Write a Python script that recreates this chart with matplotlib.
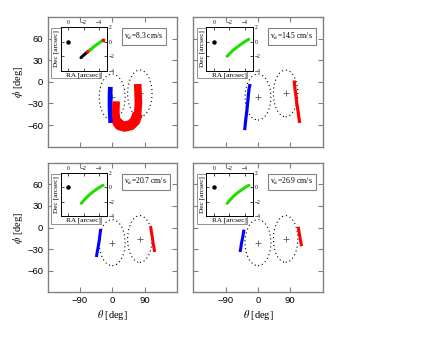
import matplotlib
matplotlib.use("Agg")
import matplotlib.pyplot as plt
from matplotlib.patches import Ellipse, Rectangle

plt.rcParams["mathtext.fontset"] = "stix"
plt.rcParams["font.family"] = ["Liberation Sans", "DejaVu Sans"]

# ---- data ----
speeds = ["8.3", "14.5", "20.7", "26.9"]

# dotted ellipses (theta, phi centre, full width, full height) in deg
ell_theta = [0, 77]
ell_phi = [-21, -16]
ell_width = [72, 68]
ell_height = [64, 65]

# blue and red strips in the main panels
blue_theta = [
    [-5, -6, -6, -5, -4],
    [-22, -25, -27, -29, -31, -34, -36, -37],
    [-32, -34, -36, -39, -42, -44],
    [-39, -41, -43, -46, -48, -50],
]
blue_phi = [
    [-7, -20, -35, -48, -57],
    [-3, -10, -20, -30, -40, -52, -62, -67],
    [-2, -10, -18, -27, -35, -41],
    [-3, -9, -15, -22, -29, -34],
]
red_theta = [
    [11, 10, 12, 20, 35, 52, 64, 71, 73, 72, 71],
    [101, 103, 106, 108, 112, 114, 116],
    [107, 109, 112, 114, 117, 118],
    [112, 114, 116, 118, 120, 121],
]
red_phi = [
    [-27, -42, -54, -60, -62, -60, -54, -44, -30, -15, -3],
    [2, -10, -20, -30, -42, -50, -57],
    [2, -6, -14, -22, -30, -34],
    [1, -5, -11, -17, -22, -26],
]
strip_width = [3.4, 2.3, 2.2, 2.2]

# inset tracks (RA, Dec) in arcsec
green_ra = [
    [-2.8, -3.3, -3.8, -4.2, -4.5],
    [-1.7, -2.1, -2.6, -3.1, -3.6, -4.1, -4.5],
    [-1.7, -2.1, -2.6, -3.1, -3.6, -4.1, -4.5],
    [-1.7, -2.1, -2.6, -3.1, -3.6, -4.1, -4.5],
]
green_dec = [
    [-1.15, -0.7, -0.3, 0.0, 0.25],
    [-2.0, -1.55, -1.05, -0.65, -0.25, 0.1, 0.35],
    [-2.2, -1.7, -1.15, -0.7, -0.3, 0.05, 0.3],
    [-2.2, -1.7, -1.15, -0.7, -0.3, 0.05, 0.3],
]
# first panel only: early part of the track
black_ra = [-1.65, -2.0, -2.5]
black_dec = [-2.2, -1.85, -1.4]
red_ra = [-2.5, -2.8]
red_dec = [-1.4, -1.15]

xticks = [-90, 0, 90]
yticks = [-60, -30, 0, 30, 60]

# ---- figure layout ----
fig = plt.figure(figsize=(4.36, 3.37), dpi=100)
col_x = [0.109, 0.4434]
row_y = [0.5647, 0.1326]
pw, ph = 0.2966, 0.3846
grey = "0.5"
serif = ["Liberation Serif", "DejaVu Serif"]

for i in range(4):
    r, c = divmod(i, 2)
    ax = fig.add_axes([col_x[c], row_y[r], pw, ph])
    ax.set_xlim(-180, 180)
    ax.set_ylim(-90, 90)

    # ellipses and their centres
    for k in range(2):
        ax.add_patch(Ellipse((ell_theta[k], ell_phi[k]), ell_width[k], ell_height[k],
                             fill=False, ec="black", lw=0.8, ls=(0, (1, 2.6))))
        ax.plot(ell_theta[k], ell_phi[k], marker="+", ms=5, mew=0.6, color="0.35")

    # strips
    ax.plot(blue_theta[i], blue_phi[i], color="blue", lw=strip_width[i],
            solid_capstyle="butt", solid_joinstyle="miter")
    if i == 0:
        ax.plot(red_theta[i], red_phi[i], color="red", lw=5.5,
                solid_capstyle="butt")
        ax.plot(red_theta[i][2:8], red_phi[i][2:8], color="red", lw=7.5,
                solid_capstyle="butt")
    else:
        ax.plot(red_theta[i], red_phi[i], color="red", lw=strip_width[i],
                solid_capstyle="butt", solid_joinstyle="miter")

    # axes styling
    for s in ax.spines.values():
        s.set_color(grey)
        s.set_linewidth(1.0)
    ax.set_xticks(xticks)
    ax.set_yticks(yticks)
    ax.tick_params(direction="in", top=True, right=True, length=3.5,
                   width=0.8, color=grey, labelsize=6.8, pad=3)
    if c == 0:
        ax.set_ylabel(r"$\phi$ [deg]", family=serif, fontsize=7.5, labelpad=2)
    else:
        ax.set_yticklabels([])
    if r == 1:
        ax.set_xlabel(r"$\theta$ [deg]", family=serif, fontsize=7.5, labelpad=2)
    else:
        ax.set_xticklabels([])

    # label box
    ax.text(0.595, 0.852, r"v$_\mathrm{d}$=" + speeds[i] + " cm/s", transform=ax.transAxes,
            ha="left", va="center", family=serif, fontsize=5.5,
            bbox=dict(boxstyle="square,pad=0.35", fc="white", ec=grey, lw=0.8))

    # white patch behind the inset
    ax.add_patch(Rectangle((0.03, 0.53), 0.385, 0.385, transform=ax.transAxes,
                           fc="white", ec=grey, lw=0.6, zorder=4))

    # inset
    ins = ax.inset_axes([0.1005, 0.587, 0.358, 0.333])
    ins.set_zorder(5)
    ins.plot(0, 0, "o", color="black", ms=2.2)
    if i == 0:
        ins.plot(black_ra, black_dec, color="black", lw=2.2, solid_capstyle="round")
        ins.plot(red_ra, red_dec, color="red", lw=2.2)
    ins.plot(green_ra[i], green_dec[i], color="#22dd00", lw=2.2, solid_capstyle="round")
    if i == 0:
        ins.plot(-4.55, 0.3, "s", color="red", ms=1.8)
    ins.set_xlim(1, -5)
    ins.set_ylim(-4, 2)
    ins.set_xticks([0, -2, -4])
    ins.set_yticks([2, 0, -2, -4])
    ins.set_xticklabels(["0", "\u22122", "\u22124"], family=serif)
    ins.set_yticklabels(["2", "0", "\u22122", "\u22124"], family=serif)
    ins.tick_params(direction="in", top=True, right=True, bottom=True, left=True,
                    labeltop=True, labelbottom=False, labelright=True, labelleft=False,
                    length=2, width=0.5, labelsize=4, pad=1.5)
    for s in ins.spines.values():
        s.set_linewidth(0.7)
    ins.set_xlabel("RA [arcsec]", family=serif, fontsize=5.2, labelpad=1)
    ins.set_ylabel("Dec [arcsec]", family=serif, fontsize=5.2, labelpad=1)

fig.savefig("out.png", dpi=100)
